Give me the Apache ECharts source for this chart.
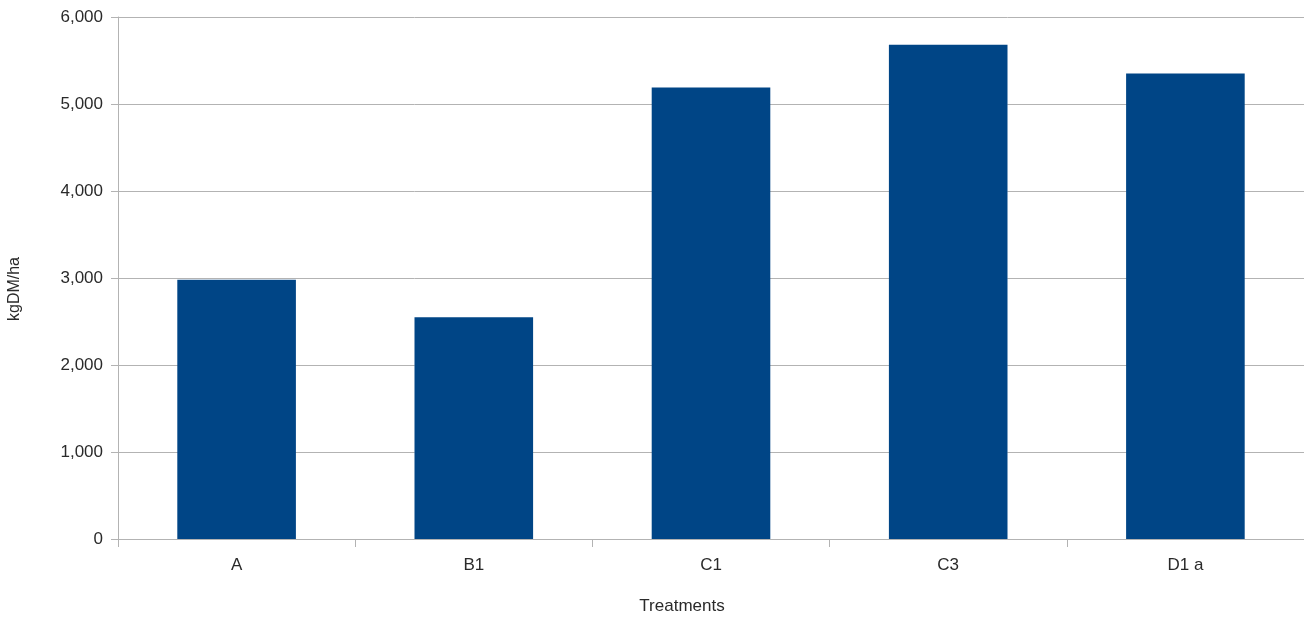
<!DOCTYPE html>
<html><head><meta charset="utf-8">
<script src="https://cdn.jsdelivr.net/npm/echarts@6/dist/echarts.min.js"></script>
<style>html,body{margin:0;padding:0;background:#fff}#c{width:1304px;height:619px}</style>
</head><body><div id="c"></div>
<script>
const categories = ['A', 'B1', 'C1', 'C3', 'D1 a'];
const values = [2980, 2550, 5190, 5680, 5350];
const yTicks = [0, 1000, 2000, 3000, 4000, 5000, 6000];
const xTitle = 'Treatments';
const yTitle = 'kgDM/ha';

const chart = echarts.init(document.getElementById('c'));
const font = '"Liberation Sans", Arial, sans-serif';
chart.setOption({
  animation: false,
  backgroundColor: '#ffffff',
  grid: { left: 118, right: 0, top: 17, bottom: 80, containLabel: false },
  xAxis: {
    type: 'category',
    data: categories,
    axisLine: { lineStyle: { color: '#b3b3b3', width: 1 } },
    axisTick: { show: true, alignWithLabel: false, length: 8, lineStyle: { color: '#b3b3b3' } },
    axisLabel: { color: '#2a2a2a', fontSize: 17, fontFamily: font, margin: 18 }
  },
  yAxis: {
    type: 'value',
    min: yTicks[0],
    max: yTicks[yTicks.length - 1],
    interval: 1000,
    axisLine: { show: true, lineStyle: { color: '#b3b3b3', width: 1 } },
    axisTick: { show: true, length: 7, lineStyle: { color: '#b3b3b3' } },
    splitLine: { show: true, lineStyle: { color: '#b3b3b3', width: 1 } },
    axisLabel: {
      color: '#2a2a2a', fontSize: 17, fontFamily: font, margin: 15,
      formatter: v => v.toLocaleString('en-US')
    }
  },
  graphic: [
    { type: 'text', x: 682, y: 606,
      style: { text: xTitle, fill: '#2a2a2a', font: '17px ' + font, align: 'center', verticalAlign: 'middle' } },
    { type: 'text', x: 15, y: 289, rotation: Math.PI / 2,
      style: { text: yTitle, fill: '#2a2a2a', font: '16px ' + font, align: 'center', verticalAlign: 'middle' } }
  ],
  series: [{
    type: 'bar',
    data: values,
    barCategoryGap: '50%',
    itemStyle: { color: '#004586' }
  }]
});
</script></body></html>
